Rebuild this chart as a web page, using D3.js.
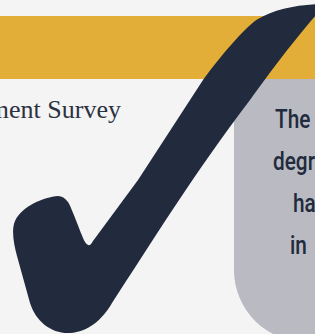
<!DOCTYPE html>
<meta charset="utf-8">
<style>
  html, body { margin: 0; padding: 0; background: #f4f4f4; overflow: hidden; }
  svg { display: block; }
</style>
<svg id="chart" width="315" height="334"></svg>
<script src="https://cdn.jsdelivr.net/npm/d3@7"></script>
<script>
// visible texts of the panel
var title = "Graduate Employment Survey";
var bodyLines = ["The share of", "degree holders", "have jobs", "in industry"];
var bodyIndent = [2, 0, 20, 17];

// check mark icon outline
var checkPath = "M58,196 C44,197 22,206 15,221 C11,230 14,245 17,256 L30,303 " +
  "C36,322 52,334 70,333 C88,332 102,320 112,303 C150,245 195,172 250,100 " +
  "C265,79 290,45 316,15 L326,4 C300,4 275,9 258,19 C248,25 225,50 203,80 " +
  "L138,180 L93,241 Q89,249 85,242 C80,232 72,208 68,202 C65,198 62,196 58,196 Z";

var svg = d3.select("#chart"),
    width = +svg.attr("width"),
    height = +svg.attr("height");

var navy = "#222a3d";

svg.append("rect")
  .attr("width", width)
  .attr("height", height)
  .attr("fill", "#f4f4f4");

// yellow banner
svg.append("rect")
  .attr("x", 0)
  .attr("y", 16)
  .attr("width", width)
  .attr("height", 63)
  .attr("fill", "#e2ae37");

// grey callout box, only bottom-left corner rounded
var bx = 234, by = 79, br = 72, bb = 342;
var box = d3.path();
box.moveTo(bx, by);
box.lineTo(width + 10, by);
box.lineTo(width + 10, bb);
box.lineTo(bx + br, bb);
box.arcTo(bx, bb, bx, bb - br, br);
box.closePath();
svg.append("path")
  .attr("d", box.toString())
  .attr("fill", "#b9bac2");

svg.append("text")
  .attr("x", 121)
  .attr("y", 118)
  .attr("text-anchor", "end")
  .attr("font-family", "'Liberation Serif', 'Times New Roman', serif")
  .attr("font-size", 26)
  .attr("fill", "#2c3142")
  .text(title);

var y = d3.scalePoint()
  .domain(bodyLines)
  .range([128, 254]);

// condensed look: squeeze Roboto horizontally
svg.append("g")
  .selectAll("text")
  .data(bodyLines)
  .join("text")
  .attr("transform", function(d, i) {
    return "translate(" + (273 + bodyIndent[i]) + "," + y(d) + ") scale(0.8,1)";
  })
  .attr("font-family", "Roboto, 'Liberation Sans', sans-serif")
  .attr("font-weight", 500)
  .attr("font-size", 26)
  .attr("word-spacing", 8)
  .attr("fill", navy)
  .text(function(d) { return d; });

svg.append("path")
  .attr("d", checkPath)
  .attr("fill", navy);
</script>
